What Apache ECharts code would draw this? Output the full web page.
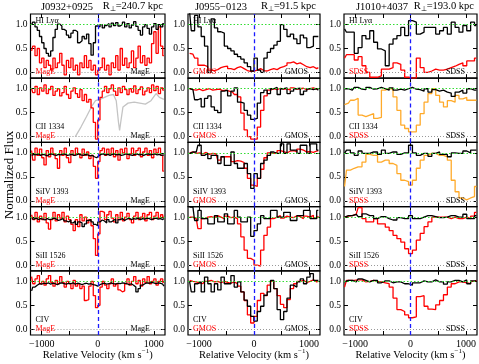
<!DOCTYPE html>
<html><head><meta charset="utf-8">
<script src="https://cdn.jsdelivr.net/npm/echarts@6/dist/echarts.min.js"></script>
<style>html,body{margin:0;padding:0;background:#fff}#c{width:479px;height:364px}</style>
</head><body><div id="c"></div>
<script>
// ---------- tick labels ----------
const velocityTicks = [-1000, 0, 1000];
const velocityTickMarks = [-1000, -500, 0, 500, 1000];
const fluxTicks = [0, 0.5, 1.0];

// ---------- labels ----------
const ions = ['HI Ly\u03b1', 'CII 1334', 'SiIV 1393', 'SiII 1526', 'CIV'];
const instruments = ['MagE', 'GMOS', 'SDSS'];
const sightlines = ['J0932+0925', 'J0955\u22120123', 'J1010+4037'];
const rperp = ['240.7', '91.5', '193.0'];

// ---------- velocity bins (km/s) ----------
const velMagE = [-1180,-1140,-1100,-1060,-1020,-980,-940,-900,-860,-820,-780,-740,-700,-660,-620,-580,-540,-500,-460,-420,-380,-340,-300,-260,-220,-180,-140,-100,-60,-20,20,60,100,140,180,220,260,300,340,380,420,460,500,540,580,620,660,700,740,780,820,860,900,940,980,1020,1060,1100,1140,1180];
const velGMOS = [-1170,-1110,-1050,-990,-930,-870,-810,-750,-690,-630,-570,-510,-450,-390,-330,-270,-210,-150,-90,-30,30,90,150,210,270,330,390,450,510,570,630,690,750,810,870,930,990,1050,1110,1170];
const velSDSS = [-1190,-1120,-1050,-980,-910,-840,-770,-700,-630,-560,-490,-420,-350,-280,-210,-140,-70,0,70,140,210,280,350,420,490,560,630,700,770,840,910,980,1050,1120,1190];
const velCIIAlt = [-400,-300,-200,-100,-40,40,120,200,280,330,370,390,410,450,540,650,750,850,950,1040,1100,1180];

// ---------- J0932+0925 (MagE) ----------
const mageHIBlack = [1.0,1.05,0.95,0.88,0.75,0.62,0.5,0.4,0.34,0.45,0.73,0.9,1.01,0.97,0.9,0.87,0.78,0.73,0.82,0.88,0.85,0.62,0.66,0.75,0.7,0.8,0.6,0.36,0.62,0.97,0.95,1.0,0.93,0.98,1.02,0.95,1.03,0.98,1.04,0.97,1.0,1.05,0.95,1.02,0.93,0.99,1.06,0.96,0.88,0.78,0.95,1.0,0.92,0.8,0.95,1.02,0.9,1.0,0.95,1.02];
const mageHIRed = [0.45,0.55,0.35,0.5,0.2,0.3,0.1,0.25,0.15,0.05,0.3,0.1,0.2,0.4,0.15,-0.05,0.25,0.1,0.3,0.05,0.15,-0.05,0.2,0.1,0.35,0.1,0.25,0.05,0.15,-0.05,0.05,0.1,0.3,0.05,0.15,-0.05,0.2,0.1,0.35,0.05,0.5,0.15,0.3,0.1,0.2,0.45,0.1,0.3,0.55,0.2,0.35,0.15,0.3,0.2,0.6,0.85,0.4,0.95,0.55,0.35];
const mageCIIRed = [1.0,0.92,1.05,0.88,1.02,0.95,1.08,0.9,0.98,1.05,0.86,0.95,1.0,0.85,0.92,1.05,0.88,0.8,0.95,1.02,0.9,0.82,0.98,0.75,0.88,0.72,0.78,0.6,0.3,-0.05,0.35,0.82,0.95,1.05,0.92,1.0,1.08,0.95,0.86,1.02,0.92,1.05,0.98,0.88,1.0,0.93,1.06,0.9,0.98,1.04,0.87,0.95,1.02,0.92,1.08,0.96,1.05,0.9,1.02,0.97];
const mageCIIAlt = [0.0,0.2,0.42,0.65,0.75,0.78,0.82,0.86,0.88,0.75,0.3,0.13,0.3,0.62,0.7,0.72,0.7,0.68,0.75,0.9,0.82,0.78];
const mageSiIVBlack = [0.95,0.97,0.96,0.98,0.95,0.97,0.96,0.94,0.97,0.98,0.96,0.95,0.97,0.96,0.98,0.97,0.95,0.96,0.97,0.95,0.96,0.98,0.96,0.95,0.97,0.96,0.94,0.95,0.92,0.9,0.94,0.97,0.98,0.96,0.97,0.95,0.97,0.98,0.96,0.97,0.95,0.96,0.98,0.97,0.96,0.95,0.97,0.98,0.96,0.97,0.95,0.97,0.98,0.96,0.97,0.98,0.96,0.97,0.95,0.96];
const mageSiIVRed = [1.05,0.85,1.1,0.95,1.08,0.9,0.75,1.05,0.92,1.1,0.98,0.88,0.68,1.05,0.95,1.1,0.9,0.8,1.05,0.95,1.1,0.98,0.9,1.08,0.95,1.02,0.88,0.95,0.72,0.47,0.82,1.05,1.1,0.95,1.08,0.98,1.1,0.92,1.05,0.85,1.08,1.0,1.1,0.88,0.98,1.1,0.95,1.05,1.1,0.92,1.02,1.1,0.95,1.05,0.9,1.08,1.0,1.1,0.95,0.62];
const mageSiIIBlack = [0.97,0.96,0.98,0.95,0.97,0.96,0.94,0.97,0.95,0.96,0.98,0.96,0.93,0.95,0.97,0.92,0.9,0.94,0.88,0.92,0.85,0.9,0.88,0.8,0.86,0.93,0.95,0.9,0.85,0.82,0.9,0.94,0.92,0.88,0.95,0.9,0.93,0.96,0.88,0.95,0.97,0.93,0.96,0.98,0.95,0.97,0.96,0.98,0.95,0.97,0.96,0.98,0.97,0.95,0.97,0.98,0.96,0.97,0.95,0.97];
const mageSiIIRed = [1.05,0.95,1.1,0.9,1.02,0.95,1.08,0.88,0.75,0.95,1.1,0.92,1.05,0.98,1.1,0.9,1.02,0.95,0.85,0.72,0.95,0.8,1.05,0.92,1.0,0.88,0.95,0.82,0.55,0.2,0.65,1.12,1.1,0.95,1.05,1.12,0.98,0.9,1.05,0.95,1.1,0.92,1.0,1.08,0.95,0.88,1.02,1.1,0.95,1.0,1.08,0.92,1.05,1.1,0.95,1.02,1.1,0.98,1.05,1.0];
const mageCIVBlack = [0.8,0.88,0.92,0.95,0.94,0.96,0.95,0.97,0.94,0.96,0.95,0.93,0.96,0.97,0.95,0.94,0.96,0.95,0.97,0.94,0.96,0.95,0.93,0.95,0.96,0.94,0.95,0.93,0.92,0.9,0.93,0.95,0.96,0.94,0.95,0.97,0.95,0.94,0.96,0.95,0.97,0.96,0.95,0.93,0.95,0.92,0.88,0.78,0.85,0.92,0.95,0.97,0.96,0.98,0.97,0.95,0.97,0.96,0.94,0.9];
const mageCIVRed = [1.1,0.95,1.05,1.12,0.95,1.0,0.92,1.05,1.12,0.98,0.9,1.02,0.95,1.1,0.98,0.88,1.0,0.95,0.85,1.02,0.9,0.95,0.85,0.9,0.6,0.62,0.9,1.0,0.7,0.45,0.5,0.88,1.0,0.92,0.85,0.95,1.05,0.9,0.95,0.82,0.78,0.8,0.95,1.05,0.92,1.0,1.1,0.95,1.02,0.9,1.05,0.98,1.1,0.95,1.0,1.05,0.92,1.0,1.05,0.98];

// ---------- J0955-0123 (GMOS) ----------
const gmosHIBlack = [1.25,0.87,1.19,0.95,0.75,0.55,0.0,1.12,0.93,0.85,0.82,0.55,0.5,0.45,0.38,0.33,0.28,0.2,0.12,0.03,0.3,0.05,0.0,0.3,0.42,0.5,0.57,0.65,1.0,0.9,0.75,0.8,0.7,0.6,0.78,0.72,0.52,0.55,0.75,0.75];
const gmosHIRed = [0.4,0.38,0.3,0.15,0.15,0.12,0.05,0.04,0.06,0.1,0.12,0.13,0.08,0.06,0.1,0.12,0.08,0.04,0.02,0.03,0.05,0.08,0.04,0.03,0.06,0.08,0.06,0.1,0.12,0.15,0.2,0.22,0.18,0.2,0.16,0.12,0.1,0.12,0.08,0.1];
const gmosCIIBlack = [1.0,0.98,0.77,0.8,0.62,0.8,0.85,0.62,0.55,0.5,0.95,0.97,0.85,0.95,1.02,0.72,0.7,0.55,0.45,0.36,0.38,0.7,0.92,0.97,0.9,1.0,1.03,0.88,1.0,1.02,0.9,0.95,1.0,1.01,0.88,0.95,1.0,0.98,1.0,0.97];
const gmosCIIRed = [1.0,0.98,0.97,0.99,0.96,0.98,1.0,0.97,0.98,0.99,0.96,0.97,0.95,0.93,0.88,0.83,0.49,0.14,0.0,-0.05,-0.05,0.2,0.55,0.85,0.97,1.0,0.98,1.01,0.99,1.0,0.97,1.02,0.99,1.0,1.01,0.98,1.0,1.02,0.99,1.0];
const gmosSiIVBlack = [0.99,1.02,1.02,1.16,0.95,0.99,0.88,0.95,0.95,0.78,0.92,0.74,0.74,1.02,0.78,0.68,0.68,0.78,0.57,0.26,0.57,0.47,0.78,0.85,0.95,1.02,0.99,0.99,1.19,0.99,1.19,1.06,1.06,0.99,1.16,1.16,0.99,1.19,1.19,1.06];
const gmosSiIVRed = [1.0,1.02,0.99,1.0,0.98,1.01,0.97,0.99,0.98,0.85,0.92,0.92,0.92,0.82,0.84,0.83,0.8,0.68,0.47,0.33,0.3,0.47,0.66,0.9,1.0,0.99,1.0,1.05,1.03,1.0,1.04,1.05,1.03,1.08,1.06,1.02,1.03,1.01,1.04,1.05];
const gmosSiIIBlack = [1.21,1.21,0.93,1.14,0.97,0.97,0.86,0.86,1.03,0.9,0.9,1.07,0.86,0.86,1.14,1.0,0.9,0.9,1.0,0.6,0.72,0.86,1.03,0.97,0.97,1.14,1.14,1.0,1.0,1.1,1.1,0.93,0.93,1.03,1.03,1.14,1.14,0.97,0.97,1.14];
const gmosSiIIRed = [1.0,1.0,0.97,0.76,0.97,1.0,1.01,0.99,1.03,1.0,0.97,1.02,0.99,1.0,0.97,0.86,0.59,0.31,0.14,0.1,0.0,-0.02,0.31,0.62,0.79,0.97,1.0,1.03,0.98,1.02,1.0,0.99,1.03,1.01,0.97,1.02,1.0,1.04,0.98,1.02];
const gmosCIVBlack = [0.99,0.78,0.95,0.99,0.78,1.09,0.95,0.78,0.95,0.82,1.09,0.95,0.95,1.12,0.88,0.99,0.78,0.61,0.48,0.27,0.17,0.37,0.48,0.71,0.78,1.02,0.85,0.41,0.2,0.37,0.65,0.92,0.88,0.99,1.05,0.95,1.09,1.16,1.02,1.02];
const gmosCIVRed = [1.02,1.0,0.99,0.97,0.95,1.0,1.02,0.99,1.0,0.97,1.0,0.98,0.96,0.99,0.95,0.9,0.78,0.6,0.3,0.13,0.27,0.6,0.75,0.7,0.92,1.0,0.85,0.7,0.52,0.45,0.62,0.85,0.95,1.0,1.02,0.98,1.0,1.03,0.99,1.0];

// ---------- J1010+4037 (SDSS) ----------
const sdssHIBlack = [0.91,0.84,0.84,0.4,0.52,0.77,0.7,0.87,0.63,0.49,0.45,0.14,0.59,0.7,0.77,0.94,0.77,1.08,1.05,0.8,0.84,0.94,0.94,0.94,0.8,0.87,0.94,0.8,1.05,0.94,0.84,0.98,0.87,1.05,0.98];
const sdssHIRed = [0.3,0.37,0.37,0.26,0.33,0.14,0.0,-0.1,-0.1,-0.07,0.07,0.07,0.1,0.2,0.17,0.05,-0.1,-0.12,-0.12,0.3,0.1,0.0,0.03,0.07,0.05,0.05,0.07,0.1,0.13,0.17,0.2,0.14,0.24,0.24,0.3];
const sdssCIIBlack = [1.0,1.0,0.97,1.03,0.99,0.98,1.03,0.99,1.0,1.03,1.0,0.97,1.02,0.97,0.99,0.97,1.0,1.03,0.99,0.98,0.95,1.0,0.93,0.98,0.95,0.97,0.93,0.91,0.84,0.93,0.97,0.91,1.0,0.97,0.97];
const sdssCIIOrange = [0.67,0.7,0.76,0.8,0.45,0.42,0.45,0.48,0.38,0.4,0.97,1.0,1.0,0.83,0.55,0.24,0.17,0.1,0.1,0.24,0.48,0.72,0.9,1.0,0.86,0.72,0.62,0.75,0.72,0.86,0.79,0.82,0.76,0.76,0.76];
const sdssSiIVBlack = [0.99,1.06,1.0,0.95,1.04,0.99,0.99,1.02,1.02,0.97,1.06,0.99,1.02,1.02,0.97,1.0,1.0,1.16,1.0,0.95,0.99,0.99,0.93,0.99,1.02,0.97,0.97,0.92,1.0,0.99,0.99,1.04,1.0,1.06,1.06];
const sdssSiIVOrange = [0.3,0.64,0.68,0.71,0.71,0.81,0.97,0.95,0.95,0.81,0.85,0.85,0.78,0.74,0.57,0.43,0.4,0.33,0.43,0.68,0.85,0.95,0.99,0.99,0.95,0.95,0.92,0.85,0.43,0.19,0.06,0.02,0.06,0.09,0.3];
const sdssSiIIBlack = [1.0,1.03,1.03,1.06,1.01,1.07,1.03,1.03,0.97,1.01,1.01,0.97,0.94,0.94,0.99,0.97,0.97,1.03,0.97,0.97,1.0,1.03,1.03,1.01,0.99,0.99,1.0,1.03,1.03,1.0,1.0,1.06,0.97,0.97,1.03];
const sdssSiIIRed = [1.0,1.02,1.03,1.06,1.2,0.97,0.9,0.9,0.97,0.86,0.86,0.79,0.72,0.62,0.55,0.48,0.34,0.24,0.31,0.52,0.66,0.8,0.9,1.0,1.0,1.0,1.0,0.97,1.0,0.97,0.97,1.0,0.97,1.02,1.1];
const sdssCIVBlack = [0.99,1.02,1.02,0.99,1.05,1.02,0.99,1.02,1.02,0.97,1.01,1.01,0.97,0.99,0.99,0.95,0.95,0.92,0.97,0.97,1.01,0.99,0.99,1.03,0.99,0.99,0.94,0.99,1.02,1.02,0.99,1.03,0.95,1.01,1.01];
const sdssCIVRed = [0.88,1.02,1.02,1.03,1.03,0.99,1.0,1.02,1.0,0.99,0.97,0.95,0.88,0.65,0.41,0.37,0.3,0.24,0.26,0.68,0.7,0.48,0.42,0.41,0.51,0.6,0.72,0.88,0.95,0.99,0.99,0.97,0.95,1.0,1.02];

// ---------- assemble ----------
const velocities = [velMagE, velGMOS, velSDSS];
const blackFlux = [
  [mageHIBlack, null, mageSiIVBlack, mageSiIIBlack, mageCIVBlack],
  [gmosHIBlack, gmosCIIBlack, gmosSiIVBlack, gmosSiIIBlack, gmosCIVBlack],
  [sdssHIBlack, sdssCIIBlack, sdssSiIVBlack, sdssSiIIBlack, sdssCIVBlack]
];
const otherFlux = [
  [mageHIRed, mageCIIRed, mageSiIVRed, mageSiIIRed, mageCIVRed],
  [gmosHIRed, gmosCIIRed, gmosSiIVRed, gmosSiIIRed, gmosCIVRed],
  [sdssHIRed, sdssCIIOrange, sdssSiIVOrange, sdssSiIIRed, sdssCIVRed]
];

const FONT = '"Liberation Serif", "Times New Roman", serif';
const RED = '#ff0000', ORANGE = '#ffaa2a', GRAY = '#c4c4c4';
const colLeft = [30.5, 188, 344];
const colWidth = [134.5, 132, 133];
const rowTop = 14, rowH = 64.2;

const grids = [], xAxes = [], yAxes = [], series = [], graphics = [];
const velFmt = v => v < 0 ? '\u2212' + Math.abs(v) : String(v);

for (let r = 0; r < 5; r++) {
  for (let c = 0; c < 3; c++) {
    const g = r * 3 + c;
    const left = colLeft[c], top = rowTop + r * rowH, w = colWidth[c], h = rowH;
    grids.push({left: left, top: top, width: w, height: h, show: true,
      borderColor: '#000', borderWidth: 1.2, backgroundColor: 'rgba(0,0,0,0)'});
    const xBase = {type: 'value', gridIndex: g, min: -1200, max: 1200,
      axisLine: {show: false, onZero: false}, splitLine: {show: false}};
    xAxes.push(Object.assign({}, xBase, {position: 'bottom',
      axisTick: {show: true, inside: true, length: 4, customValues: velocityTickMarks, lineStyle: {color: '#000', width: 1}},
      axisLabel: {show: r === 4, customValues: velocityTicks, formatter: velFmt,
        fontFamily: FONT, fontSize: 10, color: '#000', margin: 4}}));
    xAxes.push(Object.assign({}, xBase, {position: 'top',
      axisTick: {show: true, inside: true, length: 4, customValues: velocityTickMarks, lineStyle: {color: '#000', width: 1}},
      axisLabel: {show: false}}));
    const yBase = {type: 'value', gridIndex: g, min: -0.12, max: 1.22,
      axisLine: {show: false, onZero: false}, splitLine: {show: false}};
    yAxes.push(Object.assign({}, yBase, {position: 'left',
      axisTick: {show: true, inside: true, length: 4, customValues: fluxTicks, lineStyle: {color: '#000', width: 1}},
      axisLabel: {show: true, customValues: fluxTicks, formatter: v => v.toFixed(1),
        fontFamily: FONT, fontSize: 9.5, color: '#000', margin: 3}}));
    yAxes.push(Object.assign({}, yBase, {position: 'right',
      axisTick: {show: true, inside: true, length: 4, customValues: fluxTicks, lineStyle: {color: '#000', width: 1}},
      axisLabel: {show: false}}));

    const vel = velocities[c];
    const otherColor = (c === 2 && (r === 1 || r === 2)) ? ORANGE : RED;
    // reference lines
    series.push({type: 'line', xAxisIndex: 2 * g, yAxisIndex: 2 * g, data: [], z: 1,
      markLine: {silent: true, symbol: ['none', 'none'], label: {show: false}, animation: false,
        data: [
          {yAxis: 1, lineStyle: {color: '#33dd33', type: [1.5, 2], width: 1}},
          {yAxis: 0, lineStyle: {color: '#999999', type: [1, 2], width: 1}}
        ]}});
    if (c === 0 && r === 1) {
      series.push({type: 'line', xAxisIndex: 2 * g, yAxisIndex: 2 * g, z: 2,
        data: velCIIAlt.map((v, i) => [v, mageCIIAlt[i]]), symbol: 'none',
        lineStyle: {color: GRAY, width: 1.3}});
    }
    series.push({type: 'line', xAxisIndex: 2 * g, yAxisIndex: 2 * g, z: 3,
      data: vel.map((v, i) => [v, otherFlux[c][r][i]]), step: 'middle', symbol: 'none',
      lineStyle: {color: otherColor, width: 1.3}});
    if (blackFlux[c][r]) {
      series.push({type: 'line', xAxisIndex: 2 * g, yAxisIndex: 2 * g, z: 4,
        data: vel.map((v, i) => [v, blackFlux[c][r][i]]), step: 'middle', symbol: 'none',
        lineStyle: {color: '#000', width: 1.3}});
    }
    series.push({type: 'line', xAxisIndex: 2 * g, yAxisIndex: 2 * g, data: [], z: 5,
      markLine: {silent: true, symbol: ['none', 'none'], label: {show: false}, animation: false,
        data: [{xAxis: 0, lineStyle: {color: '#1a1aff', type: [4, 3], width: 1.3}}]}});

    // panel labels
    const bottom = top + h, right = left + w;
    if (r === 0) {
      graphics.push({type: 'text', x: left + 5, y: top + 6.5, z: 100,
        style: {text: ions[r], fill: '#000', fontFamily: FONT, fontSize: 8, verticalAlign: 'middle', align: 'left'}});
    } else {
      graphics.push({type: 'text', x: left + 5, y: bottom - 15, z: 100,
        style: {text: ions[r], fill: '#000', fontFamily: FONT, fontSize: 8, verticalAlign: 'middle', align: 'left'}});
    }
    graphics.push({type: 'text', x: left + 5, y: bottom - 6, z: 100,
      style: {text: instruments[c], fill: RED, fontFamily: FONT, fontSize: 8, verticalAlign: 'middle', align: 'left'}});
    graphics.push({type: 'text', x: right - (c === 0 ? 15 : 12), y: bottom - 6, z: 100,
      style: {text: instruments[c], fill: '#000', fontFamily: FONT, fontSize: 8, verticalAlign: 'middle', align: 'right'}});
  }
}

// column titles & axis titles
const titleX = [41, 195, 356];
const rX = [163, 316, 474];
for (let c = 0; c < 3; c++) {
  graphics.push({type: 'text', x: titleX[c], y: 7, z: 100,
    style: {text: sightlines[c], fill: '#000', fontFamily: FONT, fontSize: 10.5, verticalAlign: 'middle', align: 'left'}});
  graphics.push({type: 'text', x: rX[c], y: 7, z: 100,
    style: {text: '{a|R}{b|\u22a5}{a|=' + rperp[c] + ' kpc}', align: 'right', verticalAlign: 'middle',
      rich: {a: {fontFamily: FONT, fontSize: 10.5, fill: '#000', verticalAlign: 'top'},
             b: {fontFamily: FONT, fontSize: 7, fill: '#000', verticalAlign: 'top', padding: [5, 0, 0, 0]}}}});
  graphics.push({type: 'text', x: colLeft[c] + colWidth[c] / 2, y: 354, z: 100,
    style: {text: '{a|Relative Velocity (km s}{b|\u22121}{a|)}', align: 'center', verticalAlign: 'middle',
      rich: {a: {fontFamily: FONT, fontSize: 10.5, fill: '#000', verticalAlign: 'bottom', padding: [2, 0, 0, 0]},
             b: {fontFamily: FONT, fontSize: 7, fill: '#000', verticalAlign: 'top'}}}});
}
graphics.push({type: 'text', x: 10, y: 175, rotation: Math.PI / 2, z: 100,
  style: {text: 'Normalized Flux', fill: '#000', fontFamily: FONT, fontSize: 13, align: 'center', verticalAlign: 'middle'}});

const chart = echarts.init(document.getElementById('c'), null, {renderer: 'canvas'});
chart.setOption({
  animation: false,
  backgroundColor: '#fff',
  grid: grids, xAxis: xAxes, yAxis: yAxes, series: series, graphic: graphics
});
</script></body></html>
